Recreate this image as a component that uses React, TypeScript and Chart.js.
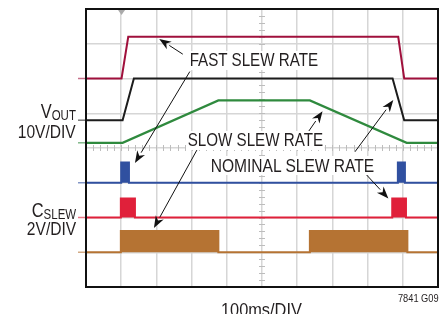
import React, { useEffect, useRef } from "react";
import { Chart, registerables } from "chart.js";

Chart.register(...registerables);

// Time axis: 100ms/DIV, 10 divisions. Vertical: 8 divisions (trace levels in divisions)
const TIME_MIN = 0;
const TIME_MAX = 1000;
const DIV_MIN = 0;
const DIV_MAX = 8;

// VOUT traces (10V/DIV)
const fastT = [0, 101, 120, 887, 904, 1000];
const fastV = [6.0, 6.0, 7.2, 7.2, 6.0, 6.0];

const nominalT = [0, 104, 136, 871, 904, 1000];
const nominalV = [4.8, 4.8, 6.0, 6.0, 4.8, 4.8];

const slowT = [0, 104, 376, 636, 911, 1000];
const slowV = [4.15, 4.15, 5.37, 5.37, 4.15, 4.15];

// CSLEW traces (2V/DIV)
const cFastT = [0, 100, 100, 122, 122, 886, 886, 906, 906, 1000];
const cFastV = [3.0, 3.0, 3.58, 3.58, 3.0, 3.0, 3.58, 3.58, 3.0, 3.0];

const cNomT = [0, 99, 99, 139, 139, 870, 870, 909, 909, 1000];
const cNomV = [2.0, 2.0, 2.55, 2.55, 2.0, 2.0, 2.55, 2.55, 2.0, 2.0];

const cSlowT = [0, 99, 99, 376, 376, 636, 636, 913, 913, 1000];
const cSlowV = [1.0, 1.0, 1.61, 1.61, 1.0, 1.0, 1.61, 1.61, 1.0, 1.0];

// Annotation arrows: [fromTime, fromDiv, toTime, toDiv]
const arrows: number[][] = [
  [275, 6.7, 208, 7.14],
  [295, 6.2, 139, 3.57],
  [315, 3.94, 193, 1.7],
  [625, 4.37, 672, 5.06],
  [764, 3.89, 873, 5.38],
  [793, 3.27, 859, 2.55],
];

const RED_DARK = "#a0103c";
const BLACK = "#1c1c1c";
const GREEN = "#2f8a3e";
const BLUE = "#3050a0";
const RED = "#e0203a";
const BROWN = "#b57333";

const baseLevels = [
  { v: 6.0, c: "rgba(160,16,60,0.6)" },
  { v: 4.8, c: "rgba(28,28,28,0.6)" },
  { v: 4.15, c: "rgba(47,138,62,0.6)" },
  { v: 3.0, c: "rgba(48,80,160,0.6)" },
  { v: 2.0, c: "rgba(224,32,58,0.6)" },
  { v: 1.0, c: "rgba(181,115,51,0.6)" },
];

const zip = (t: number[], v: number[]) => t.map((x, i) => ({ x, y: v[i] }));

const FONT = '"Liberation Sans", Arial, Helvetica, sans-serif';

const overlay = {
  id: "overlay",
  beforeDatasetsDraw(chart: any) {
    const { ctx, chartArea: a, scales } = chart;
    const xs = scales.x;
    const ys = scales.y;
    ctx.save();
    ctx.strokeStyle = "#bdbdbd";
    ctx.lineWidth = 1;
    const cx = xs.getPixelForValue(500);
    const cy = ys.getPixelForValue(4);
    // minor ticks on center vertical line
    for (let d = DIV_MIN; d <= DIV_MAX; d += 0.2) {
      const y = Math.round(ys.getPixelForValue(d)) + 0.5;
      ctx.beginPath();
      ctx.moveTo(cx - 3, y);
      ctx.lineTo(cx + 3, y);
      ctx.stroke();
    }
    // minor ticks on center horizontal line
    for (let t = TIME_MIN; t <= TIME_MAX; t += 20) {
      const x = Math.round(xs.getPixelForValue(t)) + 0.5;
      ctx.beginPath();
      ctx.moveTo(x, cy - 3);
      ctx.lineTo(x, cy + 3);
      ctx.stroke();
    }
    // trigger marker
    const tx = xs.getPixelForValue(101);
    ctx.fillStyle = "#aaaaaa";
    ctx.beginPath();
    ctx.moveTo(tx - 3.5, a.top + 1);
    ctx.lineTo(tx + 3.5, a.top + 1);
    ctx.lineTo(tx, a.top + 6);
    ctx.closePath();
    ctx.fill();
    // left ground markers
    ctx.lineWidth = 1.5;
    for (const b of baseLevels) {
      const y = ys.getPixelForValue(b.v);
      ctx.strokeStyle = b.c;
      ctx.beginPath();
      ctx.moveTo(a.left - 8, y);
      ctx.lineTo(a.left - 1, y);
      ctx.stroke();
    }
    ctx.restore();
  },
  afterDatasetsDraw(chart: any) {
    const { ctx, scales } = chart;
    const xs = scales.x;
    const ys = scales.y;
    ctx.save();
    ctx.strokeStyle = "#111";
    ctx.fillStyle = "#111";
    ctx.lineWidth = 1;
    for (const [t0, v0, t1, v1] of arrows) {
      const x0 = xs.getPixelForValue(t0);
      const y0 = ys.getPixelForValue(v0);
      const x1 = xs.getPixelForValue(t1);
      const y1 = ys.getPixelForValue(v1);
      const ang = Math.atan2(y1 - y0, x1 - x0);
      const len = 12;
      const w = 4.5;
      const bx = x1 - len * Math.cos(ang);
      const by = y1 - len * Math.sin(ang);
      ctx.beginPath();
      ctx.moveTo(x0, y0);
      ctx.lineTo(bx, by);
      ctx.stroke();
      ctx.beginPath();
      ctx.moveTo(x1, y1);
      ctx.lineTo(bx + w * Math.sin(ang), by - w * Math.cos(ang));
      ctx.lineTo(bx + 0.3 * len * Math.cos(ang), by + 0.3 * len * Math.sin(ang));
      ctx.lineTo(bx - w * Math.sin(ang), by + w * Math.cos(ang));
      ctx.closePath();
      ctx.fill();
    }
    ctx.restore();
  },
  afterDraw(chart: any) {
    const { ctx, chartArea: a } = chart;
    ctx.save();
    ctx.strokeStyle = "#111";
    ctx.lineWidth = 2;
    ctx.strokeRect(a.left, a.top, a.right - a.left, a.bottom - a.top);
    ctx.restore();
  },
};

const label = (extra: React.CSSProperties, origin = "left"): React.CSSProperties => ({
  position: "absolute",
  whiteSpace: "nowrap",
  lineHeight: 1,
  color: "#231f20",
  fontFamily: FONT,
  transform: "scaleX(0.82)",
  transformOrigin: origin,
  ...extra,
});

export default function App() {
  const ref = useRef<HTMLCanvasElement | null>(null);

  useEffect(() => {
    if (!ref.current) return;
    const line = (data: any[], color: string, width: number, fill: any = false) => ({
      data,
      borderColor: color,
      backgroundColor: color,
      borderWidth: width,
      pointRadius: 0,
      tension: 0,
      fill,
    });
    const chart = new Chart(ref.current, {
      type: "line",
      data: {
        datasets: [
          line(zip(cSlowT, cSlowV), BROWN, 2, { value: 1.0 }),
          line(zip(cNomT, cNomV), RED, 2, { value: 2.0 }),
          line(zip(cFastT, cFastV), BLUE, 2, { value: 3.0 }),
          line(zip(slowT, slowV), GREEN, 2.2),
          line(zip(nominalT, nominalV), BLACK, 2),
          line(zip(fastT, fastV), RED_DARK, 2),
        ] as any,
      },
      options: {
        animation: false,
        responsive: false,
        maintainAspectRatio: false,
        layout: { padding: { left: 86, top: 9, right: 7, bottom: 27 } },
        plugins: { legend: { display: false }, tooltip: { enabled: false } },
        scales: {
          x: {
            type: "linear",
            min: TIME_MIN,
            max: TIME_MAX,
            ticks: { display: false, stepSize: 100 },
            grid: { color: "#d6d6d6", lineWidth: 1.5, drawTicks: false },
            border: { display: false },
          },
          y: {
            type: "linear",
            min: DIV_MIN,
            max: DIV_MAX,
            ticks: { display: false, stepSize: 1 },
            grid: { color: "#d6d6d6", lineWidth: 1.5, drawTicks: false },
            border: { display: false },
          },
        },
      },
      plugins: [overlay],
    });
    return () => chart.destroy();
  }, []);

  const annot: React.CSSProperties = { fontSize: 18.5, background: "#fff", padding: "0 2px" };

  return (
    <div
      style={{
        position: "absolute",
        left: 0,
        top: 0,
        width: 445,
        height: 314,
        overflow: "hidden",
        background: "#fff",
      }}
    >
      <canvas ref={ref} width={445} height={314} style={{ position: "absolute", left: 0, top: 0 }} />
      <div style={label({ ...annot, left: 188, top: 51 })}>FAST SLEW RATE</div>
      <div style={label({ ...annot, left: 186, top: 131 })}>SLOW SLEW RATE</div>
      <div style={label({ ...annot, left: 209, top: 156, fontSize: 19 })}>NOMINAL SLEW RATE</div>

      <div style={label({ fontSize: 20, right: 369, top: 101 }, "right")}>
        V<span style={{ fontSize: 14, position: "relative", top: 2 }}>OUT</span>
      </div>
      <div style={label({ fontSize: 19, right: 369, top: 122 }, "right")}>10V/DIV</div>

      <div style={label({ fontSize: 20, right: 369, top: 200 }, "right")}>
        C<span style={{ fontSize: 14, position: "relative", top: 2 }}>SLEW</span>
      </div>
      <div style={label({ fontSize: 19, right: 369, top: 219 }, "right")}>2V/DIV</div>

      <div style={label({ fontSize: 19, left: 221, top: 299.5, transform: "scaleX(0.86)" })}>100ms/DIV</div>
      <div style={label({ fontSize: 11.3, right: 6, top: 292.5 }, "right")}>7841 G09</div>
    </div>
  );
}
